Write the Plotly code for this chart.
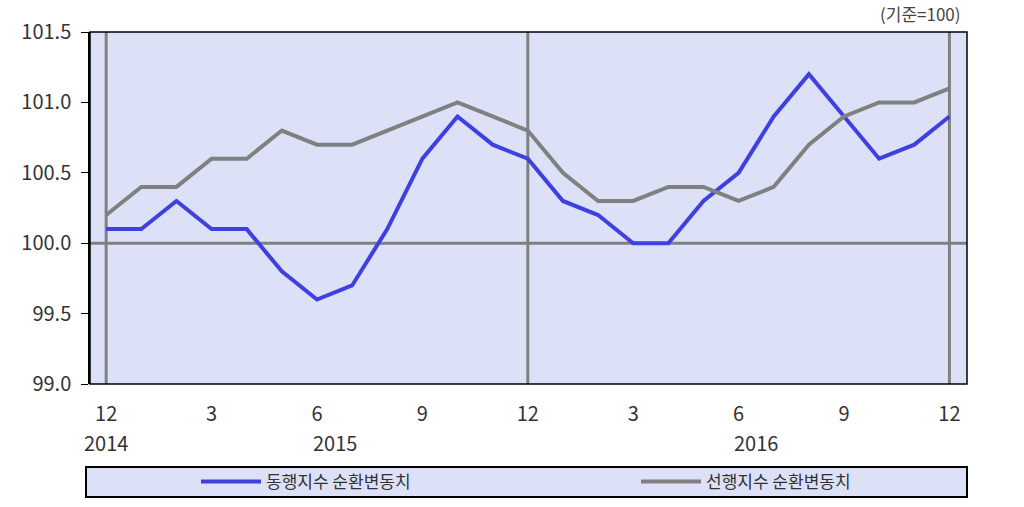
import plotly.graph_objects as go

months = ["12", "1", "2", "3", "4", "5", "6", "7", "8", "9", "10", "11",
          "12", "1", "2", "3", "4", "5", "6", "7", "8", "9", "10", "11", "12"]
coincident = [100.1, 100.1, 100.3, 100.1, 100.1, 99.8, 99.6, 99.7, 100.1, 100.6, 100.9, 100.7,
              100.6, 100.3, 100.2, 100.0, 100.0, 100.3, 100.5, 100.9, 101.2, 100.9, 100.6, 100.7, 100.9]
leading = [100.2, 100.4, 100.4, 100.6, 100.6, 100.8, 100.7, 100.7, 100.8, 100.9, 101.0, 100.9,
           100.8, 100.5, 100.3, 100.3, 100.4, 100.4, 100.3, 100.4, 100.7, 100.9, 101.0, 101.0, 101.1]
tick_idx = [0, 3, 6, 9, 12, 15, 18, 21, 24]
years = ["2014", "2015", "2016"]
year_pos = [0, 6.5, 18.5]
year_lines = [0, 12, 24]

x = list(range(len(months)))
FONT = "Noto Sans CJK KR"
BLUE = "#4040e0"
GRAY = "#808080"
BG = "#dde1f7"
TXT = "#333333"

L, R, T, B = 90, 967, 32, 384
W, H = R - L, B - T

def py(pix):
    return (B - pix) / H

def px(pix):
    return (pix - L) / W

fig = go.Figure()
fig.add_trace(go.Scatter(x=x, y=coincident, mode="lines", name="동행지수 순환변동치",
                         line=dict(color=BLUE, width=4), legend="legend"))
fig.add_trace(go.Scatter(x=x, y=leading, mode="lines", name="선행지수 순환변동치",
                         line=dict(color=GRAY, width=4), legend="legend2"))

shapes = []
for v in year_lines:
    shapes.append(dict(type="line", xref="x", yref="paper", x0=v, x1=v, y0=0, y1=1,
                       line=dict(color=GRAY, width=3), layer="below"))
shapes.append(dict(type="line", xref="paper", yref="y", x0=0, x1=1, y0=100, y1=100,
                   line=dict(color=GRAY, width=3), layer="below"))
shapes.append(dict(type="rect", xref="paper", yref="paper", x0=0, x1=1, y0=0, y1=1,
                   line=dict(color="black", width=1.5)))
shapes.append(dict(type="rect", xref="paper", yref="paper", x0=px(86), x1=px(967),
                   y0=py(497), y1=py(467),
                   fillcolor=BG, line=dict(color="black", width=2), layer="below"))

annotations = []
for yr, p in zip(years, year_pos):
    annotations.append(dict(text=yr, x=p, xref="x", y=py(443), yref="paper",
                            showarrow=False, font=dict(family=FONT, size=20, color=TXT),
                            xanchor="center", yanchor="middle"))
annotations.append(dict(text="(기준=100)", x=px(920), xref="paper", y=py(13), yref="paper",
                        showarrow=False, font=dict(family=FONT, size=17, color="#444444"),
                        xanchor="center", yanchor="middle"))

legend_common = dict(orientation="h", xanchor="left", yanchor="middle", y=py(482),
                     bgcolor="rgba(0,0,0,0)", itemwidth=60,
                     font=dict(family=FONT, size=17, color=TXT))

fig.update_layout(
    width=1024, height=507,
    margin=dict(l=L, r=1024 - R, t=T, b=507 - B, autoexpand=False),
    plot_bgcolor=BG, paper_bgcolor="white",
    font=dict(family=FONT, size=20, color=TXT),
    showlegend=True,
    legend=dict(x=px(196), **legend_common),
    legend2=dict(x=px(636), **legend_common),
    shapes=shapes, annotations=annotations,
    xaxis=dict(range=[-0.46, 24.5], tickvals=tick_idx, ticktext=[months[i] for i in tick_idx],
               showgrid=False, zeroline=False, showline=False, ticks="outside", ticklen=12,
               tickcolor="rgba(0,0,0,0)", tickfont=dict(family=FONT, size=20, color=TXT)),
    yaxis=dict(range=[99.0, 101.5], tickvals=[99.0, 99.5, 100.0, 100.5, 101.0, 101.5],
               ticktext=["99.0", "99.5", "100.0", "100.5", "101.0", "101.5"],
               showgrid=False, zeroline=False, showline=True, linecolor="black", linewidth=1.5,
               ticks="outside", ticklen=7, tickcolor="black", ticklabelstandoff=6,
               tickfont=dict(family=FONT, size=20, color=TXT)),
)

fig.write_html("out.html")
